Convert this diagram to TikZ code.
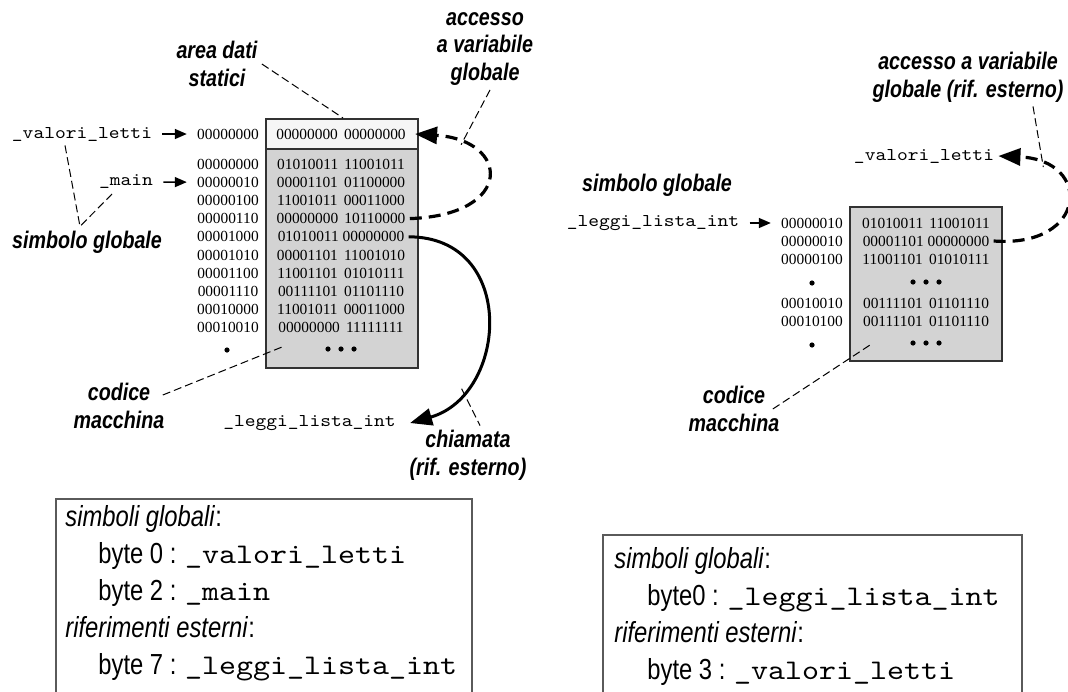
\documentclass[tikz,border=0pt]{standalone}
\usepackage{fontspec}
\setmainfont{Liberation Serif}
\newfontfamily\lblfont[FakeStretch=0.82]{Liberation Sans}
\newfontfamily\codefont[Extension=.otf,FakeStretch=1.14]{lmmono10-regular}
\usepackage{tikz}
\usetikzlibrary{arrows.meta, positioning, calc}
\definecolor{MemGray}{RGB}{211,211,211}
\definecolor{StatGray}{RGB}{246,246,246}
\definecolor{FrameGray}{RGB}{50,50,50}
\definecolor{BoxGray}{RGB}{90,90,90}
\newcommand\boxcode[1]{{\codefont\fontsize{14.2}{18.5}\selectfont #1}}

\begin{document}
\begin{tikzpicture}[x=0.5pt, y=-0.5pt,
    lbl/.style={font=\lblfont\bfseries\itshape\fontsize{12}{13.8}\selectfont,
                align=center, inner sep=2pt},
    code/.style={font=\codefont\fontsize{9}{11}\selectfont, inner sep=2pt},
    bits/.style={font=\fontsize{7.7}{9}\selectfont, inner sep=2pt},
    mem/.style={draw=FrameGray, line width=1pt, fill=MemGray, minimum width=76pt},
    stat/.style={mem, fill=StatGray, minimum height=15pt},
    ptr/.style={-{Triangle[length=6pt,width=5pt]}, line width=0.75pt,
                shorten <=3pt, shorten >=3pt},
    leader/.style={dash pattern=on 4pt off 2pt, line width=0.5pt},
    call/.style={-{Triangle[length=11pt,width=8.5pt]}, line width=1.5pt},
    access/.style={call, line width=1.6pt, dash pattern=on 6pt off 3.5pt},
    infobox/.style={draw=BoxGray, line width=0.75pt, anchor=north west},
    infotext/.style={font=\lblfont\fontsize{14.5}{18.5}\selectfont,
                     align=left, anchor=north west, inner sep=0pt}
  ]
  \useasboundingbox (0,0) rectangle (1068,691);

  % ---- left module: memory image ----
  \node[mem, minimum height=109.5pt] (code) at (342,258.5) {};
  \node[stat] (stat) at (342,134) {};
  \node[bits] (a0) at (228,134) {00000000};
  \node[bits] (d0) at (341,134) {00000000\hspace{.4em}00000000};
  \foreach \i/\ad/\hi/\lo/\gp in {1/00000000/01010011/11001011/.4em,
      2/00000010/00001101/01100000/.4em, 3/00000100/11001011/00011000/.4em,
      4/00000110/00000000/10110000/.4em, 5/00001000/01010011/00000000/.25em,
      6/00001010/00001101/11001010/.4em, 7/00001100/11001101/01010111/.4em,
      8/00001110/00111101/01101110/.4em, 9/00010000/11001011/00011000/.4em,
      10/00010010/00000000/11111111/.4em} {
    \node[bits] (a\i) at (228, {164+(\i-1)*18.2}) {\ad};
    \node[bits] (d\i) at (341, {164+(\i-1)*18.2}) {\hi\hspace{\gp}\lo};
  }
  \fill (227,350) circle (1.3pt);
  \foreach \x in {328,341,354} \fill (\x,349) circle (1.3pt);

  % symbols
  \node[code] (lv) at (82,134) {\_valori\_letti};
  \node[code] (lm) at (126,182) {\_main};
  \node[code] (ll) at (309.5,423) {\_leggi\_lista\_int};
  \draw[ptr] (lv) -- (a0);
  \draw[ptr] (lm) -- (a2);

  % labels
  \node[lbl] (ads) at (217,64) {area dati\\statici};
  \node[lbl] (acc) at (485,49) {accesso\\a variabile\\globale};
  \node[lbl] (sgl) at (87,242) {simbolo globale};
  \node[lbl] (cod) at (119,406) {codice\\macchina};
  \node[lbl] (chi) at (468,455) {chiamata\\(rif. esterno)};

  % references
  \draw[access] (d4.east) .. controls (515,215) and (510,140) ..
        coordinate[pos=0.8] (accpt) ([xshift=2.5pt]d0.east);
  \draw[call] (d5.east) .. controls (518,237) and (508,395) ..
        coordinate[pos=0.78] (callpt) ([xshift=5pt]ll.east);
  \coordinate (sgv) at ([xshift=-3.5pt]sgl.north);
  \coordinate (codpt) at (282,347);
  \draw[leader] (ads.east) -- ([xshift=0.5pt]stat.north);
  \draw[leader] ([xshift=2.5pt]acc.south) -- (accpt);
  \draw[leader] ([xshift=-8.5pt]lv.south) -- (sgv) -- ([xshift=9pt]lm.south west);
  \draw[leader] ([shift={(-3pt,5.5pt)}]cod.east) -- (codpt);
  \draw[leader] (callpt) -- ([xshift=6pt]chi.north);

  % ---- right module: memory image ----
  \node[mem, minimum height=77pt] (code2) at (926,284) {};
  \foreach \i/\y/\ad/\hi/\lo/\gp in {1/223/00000010/01010011/11001011/.4em,
      2/241/00000010/00001101/00000000/.25em, 3/259/00000100/11001101/01010111/.4em,
      4/303/00010010/00111101/01101110/.4em, 5/321/00010100/00111101/01101110/.4em} {
    \node[bits] (ra\i) at (812,\y) {\ad};
    \node[bits] (rd\i) at (926,\y) {\hi\hspace{\gp}\lo};
  }
  \foreach \y in {282,343} {
    \foreach \x in {913,926,939} \fill (\x,\y) circle (1.3pt);
  }
  \fill (812,283) circle (1.3pt);
  \fill (812,345) circle (1.3pt);

  \node[code] (lli) at (653,223) {\_leggi\_lista\_int};
  \node[code] (vl2) at (924,156) {\_valori\_letti};
  \draw[ptr] (lli) -- (ra1);

  \node[lbl] (sg2) at (657,185) {simbolo globale};
  \node[lbl] (acc2) at (968,77) {accesso a variabile\\globale (rif. esterno)};
  \node[lbl] (cod2) at (734,409) {codice\\macchina};

  \draw[access] (rd2.east) .. controls (1088,248) and (1093,160) ..
        coordinate[pos=0.8] (accpt2) (vl2.east);
  \coordinate (codpt2) at (870,345);
  \draw[leader] ([xshift=32.5pt]acc2.south) -- (accpt2);
  \draw[leader] ([xshift=-5.5pt]cod2.east) -- (codpt2);

  % ---- symbol tables ----
  \node[infobox, minimum width=208pt, minimum height=110pt] (tab1) at (55,498) {};
  \node[infotext] (txt1) at ([shift={(5pt,-3.5pt)}]tab1.north west)
    {\textit{simboli globali}:\\
     \hspace*{16.5pt}byte 0 : \boxcode{\_valori\_letti}\\
     \hspace*{16.5pt}byte 2 : \boxcode{\_main}\\
     \textit{riferimenti esterni}:\\
     \hspace*{16.5pt}byte 7 : \boxcode{\_leggi\_lista\_int}};

  \node[infobox, minimum width=209.5pt, minimum height=100pt] (tab2) at (602,534) {};
  \node[infotext] (txt2) at ([shift={(6pt,-6.5pt)}]tab2.north west)
    {\textit{simboli globali}:\\
     \hspace*{16.5pt}byte0 : \boxcode{\_leggi\_lista\_int}\\
     \textit{riferimenti esterni}:\\
     \hspace*{16.5pt}byte 3 : \boxcode{\_valori\_letti}};
\end{tikzpicture}
\end{document}
